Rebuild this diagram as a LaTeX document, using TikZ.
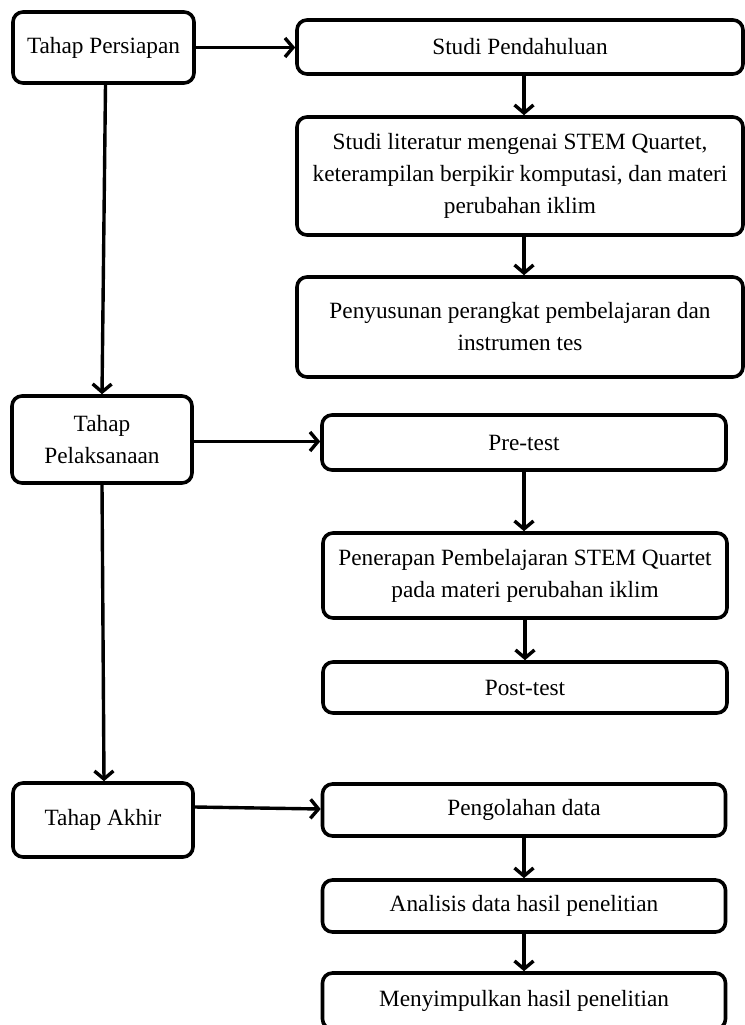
\documentclass[tikz,border=0pt]{standalone}
\usepackage{fontspec}
\setmainfont{Liberation Serif}
\usetikzlibrary{arrows.meta}
\begin{document}
\begin{tikzpicture}[x=1pt,y=-1pt,
  box/.style={draw, line width=3.6pt, rounded corners=10pt, align=center,
    inner sep=0pt, font=\fontsize{23.3}{32}\selectfont},
  arr/.style={line width=3.4pt, -{Straight Barb[length=8pt,width=19pt,line width=3.4pt]}}]
\useasboundingbox (0,0) rectangle (744,1025);
% left column
\node[box, minimum width=181pt, minimum height=71pt] (P1) at (103.5,47.5) {Tahap Persiapan};
\node[box, minimum width=180pt, minimum height=87pt] (P2) at (102,439.5) {Tahap\\Pelaksanaan};
\node[box, minimum width=180pt, minimum height=74pt] (P3) at (103,820) {Tahap Akhir};
% first group
\node[box, minimum width=446pt, minimum height=54pt] (S1) at (520,47) {Studi Pendahuluan};
\node[box, minimum width=446pt, minimum height=118pt] (S2) at (520,176) {Studi literatur mengenai STEM Quartet,\\keterampilan berpikir komputasi, dan materi\\perubahan iklim};
\node[box, minimum width=446pt, minimum height=100pt] (S3) at (520,327) {Penyusunan perangkat pembelajaran dan\\instrumen tes};
% second group
\node[box, minimum width=404pt, minimum height=55pt] (T1) at (524,442.5) {Pre-test};
\node[box, minimum width=404pt, minimum height=85pt] (T2) at (525,575.5) {Penerapan Pembelajaran STEM Quartet\\pada materi perubahan iklim};
\node[box, minimum width=404pt, minimum height=51pt] (T3) at (525,687.5) {Post-test};
% third group
\node[box, minimum width=403pt, minimum height=52pt] (U1) at (524,810) {Pengolahan data};
\node[box, minimum width=403pt, minimum height=52pt] (U2) at (524,906) {Analisis data hasil penelitian};
\node[box, minimum width=403pt, minimum height=56pt] (U3) at (524,1001) {Menyimpulkan hasil penelitian};
% connectors
\draw[arr] (P1.east) -- (P1.east -| S1.west);
\draw[arr] ([xshift=4pt]S1.south) -- ([xshift=4pt]S1.south |- S2.north);
\draw[arr] ([xshift=4pt]S2.south) -- ([xshift=4pt]S2.south |- S3.north);
\draw[arr] ([xshift=2pt]P1.south) -- (P2.north);
\draw[arr] ([yshift=-2pt]P2.east) -- ([yshift=-2pt]P2.east -| T1.west);
\draw[arr] (T1.south) -- (T1.south |- T2.north);
\draw[arr] (T2.south) -- (T2.south |- T3.north);
\draw[arr] (P2.south) -- ([xshift=1pt]P3.north);
\draw[arr] ([yshift=13pt]P3.east) -- ([yshift=11pt]P3.east -| U1.west);
\draw[arr] (U1.south) -- (U1.south |- U2.north);
\draw[arr] (U2.south) -- (U2.south |- U3.north);
\end{tikzpicture}
\end{document}
